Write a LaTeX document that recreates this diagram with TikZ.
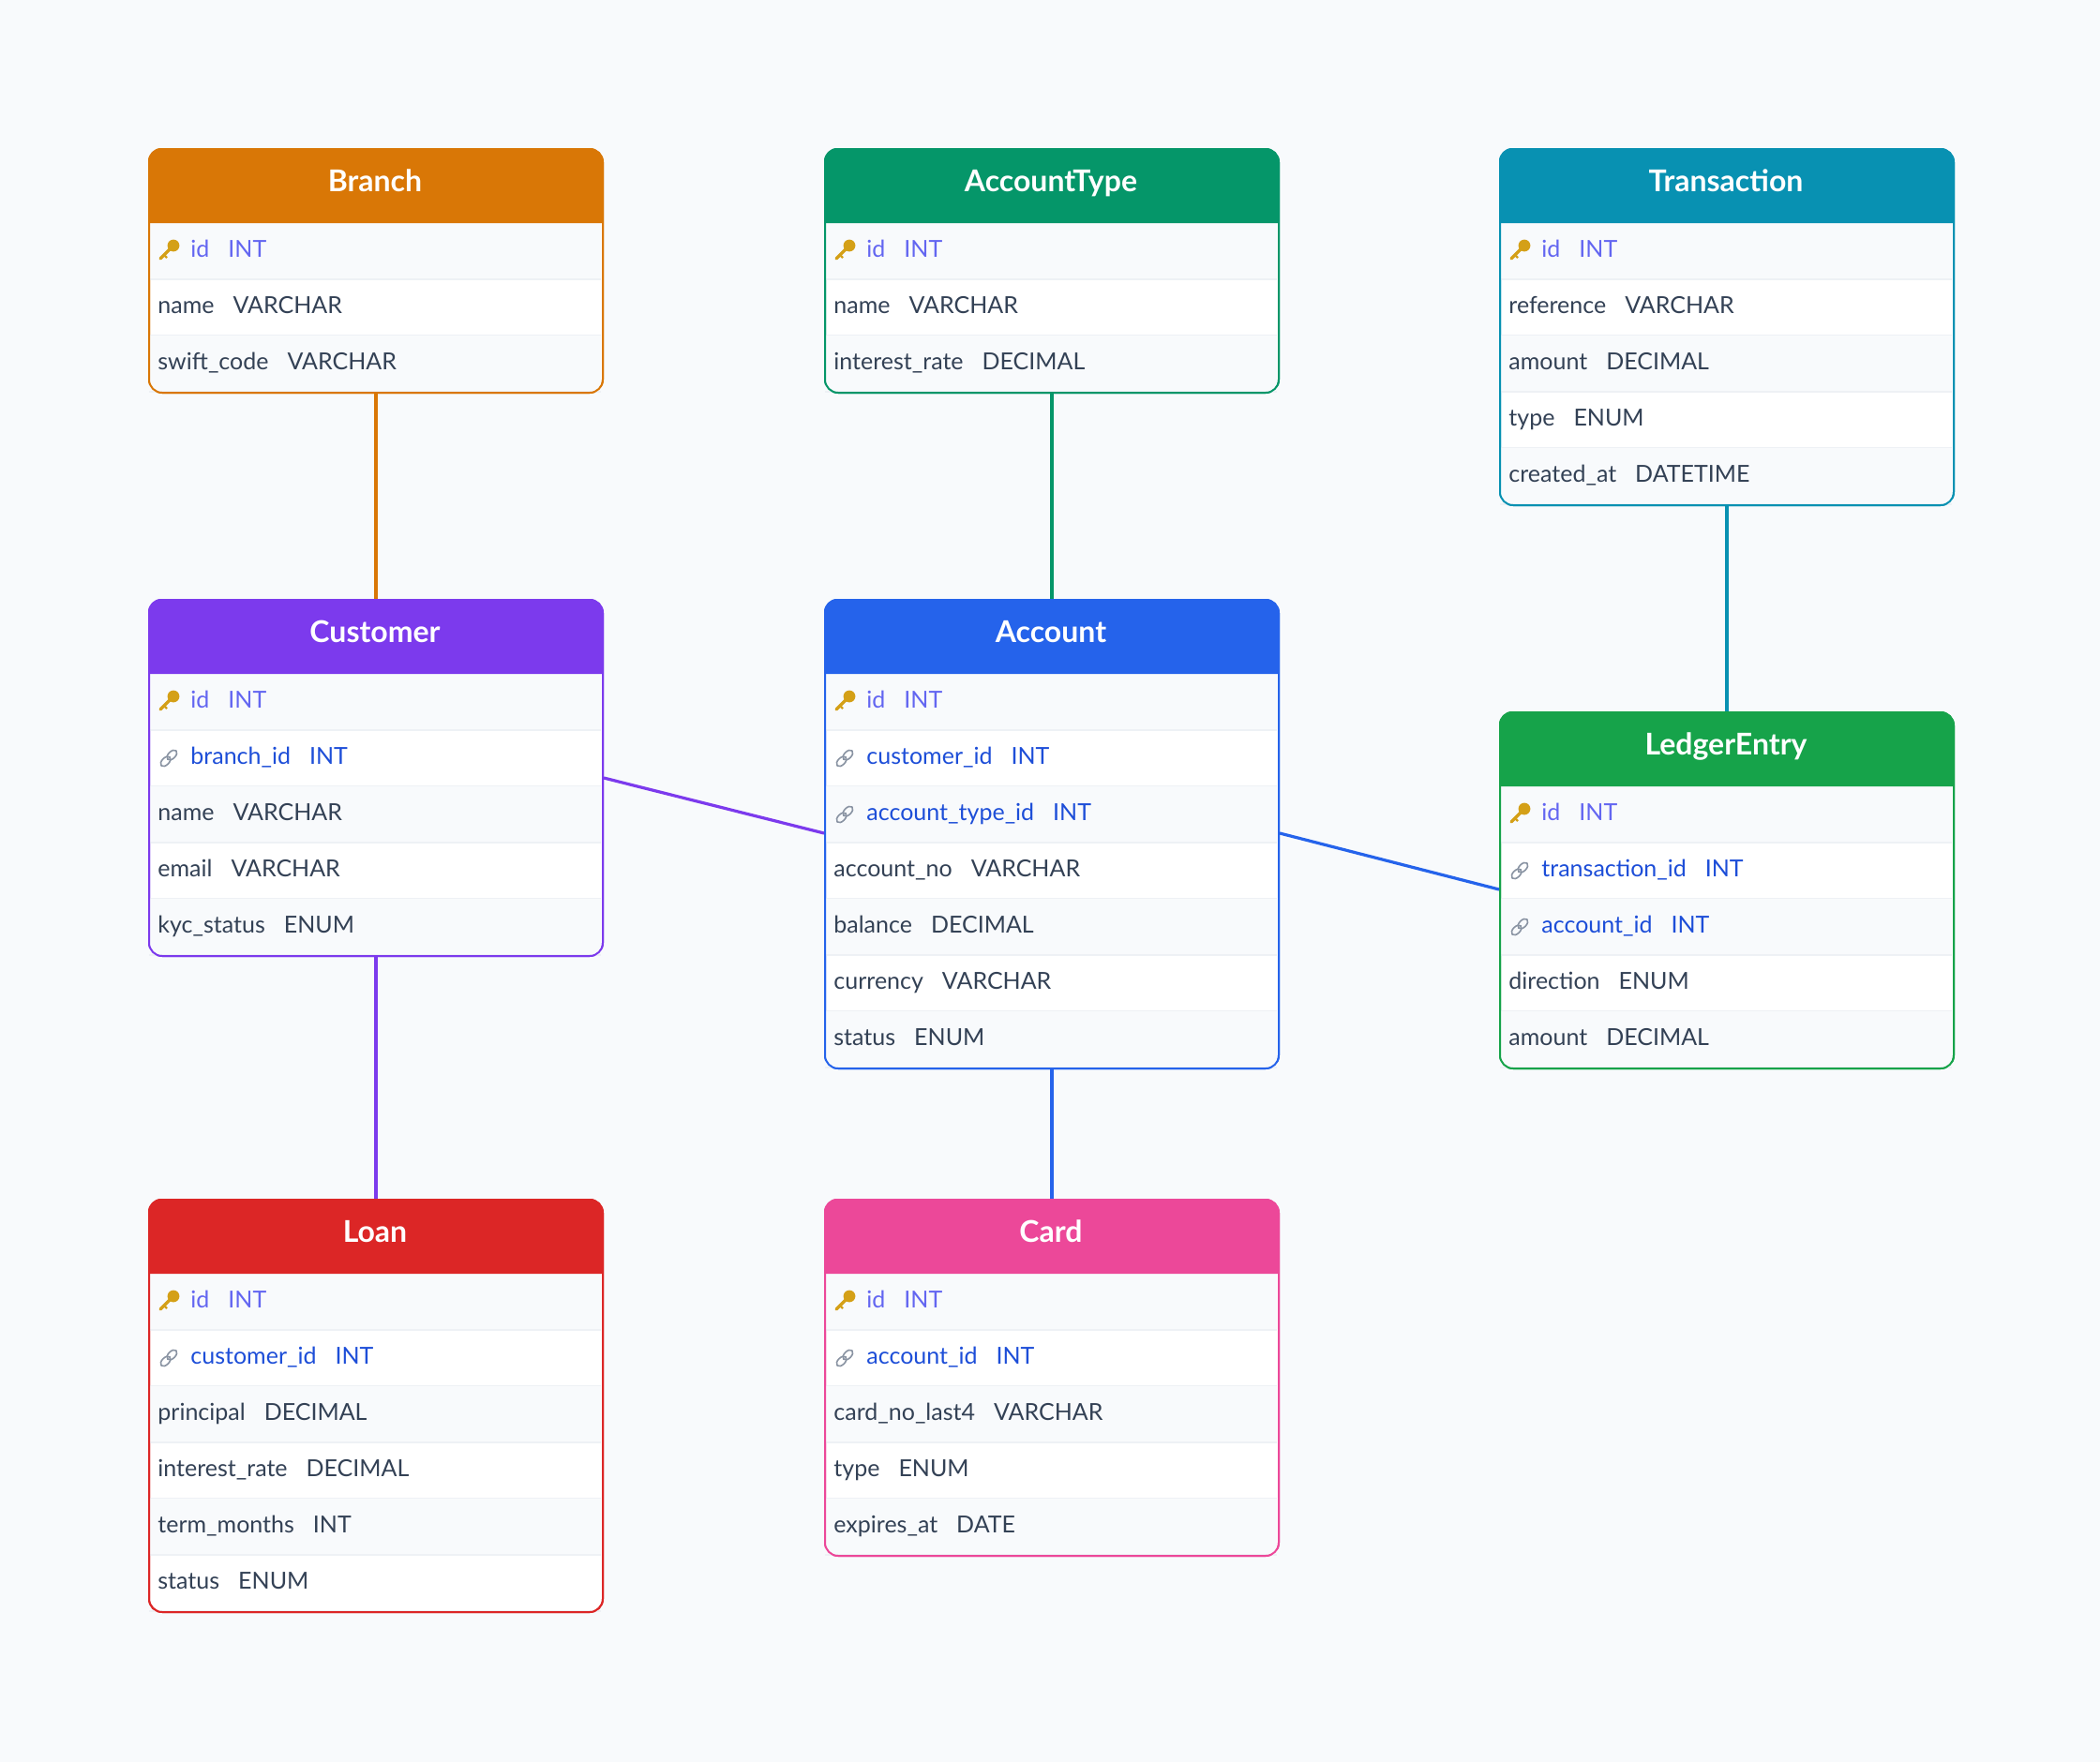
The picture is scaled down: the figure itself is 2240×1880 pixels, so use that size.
\documentclass[tikz,border=0pt]{standalone}
\usepackage{fontspec}
\setmainfont{Lato}
\usetikzlibrary{positioning}
\definecolor{pagebg}{HTML}{F8FAFC}
\definecolor{rowbg}{HTML}{F8FAFC}
\definecolor{rowline}{HTML}{EEF1F5}
\definecolor{textcol}{HTML}{334155}
\definecolor{pkcol}{HTML}{6366F1}
\definecolor{fkcol}{HTML}{1D4ED8}
\definecolor{branchcol}{HTML}{D97706}
\definecolor{acctypecol}{HTML}{059669}
\definecolor{transcol}{HTML}{0891B2}
\definecolor{custcol}{HTML}{7C3AED}
\definecolor{accountcol}{HTML}{2563EB}
\definecolor{ledgercol}{HTML}{16A34A}
\definecolor{loancol}{HTML}{DC2626}
\definecolor{cardcol}{HTML}{EC4899}
\definecolor{keycol}{HTML}{D4A017}
\definecolor{linkcol}{HTML}{8A94A3}
\tikzset{
	table frame/.style={draw=#1, line width=1pt, rounded corners=7pt, inner sep=0pt,
		minimum width=242pt, anchor=north west},
	table title/.style={text=white, inner sep=0pt, text height=11.5pt, text depth=3.5pt,
		font=\fontsize{16}{18}\selectfont\bfseries},
	field/.style={anchor=west, inner sep=0pt, text height=9pt, text depth=3pt,
		font=\fontsize{12.5}{14}\selectfont},
	field-pk/.style={field, text=pkcol},
	field-fk/.style={field, text=fkcol},
	field-no/.style={field, text=textcol},
	relation/.style={line width=1.6pt, draw=#1},
	pk icon/.pic={
		\draw[keycol, line width=1.7pt, line cap=round] (-4.5pt,-4pt) -- (1pt,1.5pt);
		\draw[keycol, line width=1.2pt] (-2.5pt,-2pt) -- (-1pt,-3.5pt);
		\fill[keycol] (2.5pt,3pt) circle (3.2pt);
	},
	fk icon/.pic={
		\draw[linkcol, line width=0.8pt, rotate=45] (-2.4pt,0) ellipse (3.2pt and 1.9pt);
		\draw[linkcol, line width=0.8pt, rotate=45] (2.4pt,0) ellipse (3.2pt and 1.9pt);
	},
	no icon/.pic={},
}
% #1 name, #2 x, #3 y, #4 colour, #5 number of rows, #6 rows kind/field/type
\newcommand\erdtable[6]{%
	\begin{scope}[shift={(#2,#3)}]
		\node[table frame=#4, fill=white, minimum height={(80+60*#5)*0.5pt}] (#1) at (0,0) {};
		\foreach \kind/\fname/\ftype [count=\i] in {#6} {
			\pgfmathsetmacro\ytop{80+60*(\i-1)}
			\ifodd\i \fill[rowbg] (1,\ytop) rectangle (483,\ytop+60); \fi
			\draw[rowline, line width=0.8pt] (1,\ytop+60) -- (483,\ytop+60);
			\ifx\kind\plainkind
				\node[field-no] at (10,\ytop+30) {\fname\hspace{10pt}\ftype};
			\else
				\pic at (22,\ytop+30) {\kind\space icon};
				\node[field-\kind] at (45,\ytop+30) {\fname\hspace{10pt}\ftype};
			\fi
		}
		\fill[#4] (0,80) [rounded corners=7pt] -- (0,0) -- (484,0) [sharp corners] -- (484,80) -- cycle;
		\node[table title] at (242,38) {#1};
		\node[table frame=#4, minimum height={(80+60*#5)*0.5pt}] at (0,0) {};
	\end{scope}
}
\def\plainkind{no}

\begin{document}
\begin{tikzpicture}[x=0.5pt, y=-0.5pt]
\fill[pagebg] (0,0) rectangle (2240,1880);
\useasboundingbox (0,0) rectangle (2240,1880);

\erdtable{Branch}{158}{158}{branchcol}{3}{pk/id/INT, no/name/VARCHAR, no/swift\_code/VARCHAR}
\erdtable{AccountType}{879}{158}{acctypecol}{3}{pk/id/INT, no/name/VARCHAR, no/interest\_rate/DECIMAL}
\erdtable{Transaction}{1599}{158}{transcol}{5}{pk/id/INT, no/reference/VARCHAR, no/amount/DECIMAL, no/type/ENUM, no/created\_at/DATETIME}
\erdtable{Customer}{158}{639}{custcol}{5}{pk/id/INT, fk/branch\_id/INT, no/name/VARCHAR, no/email/VARCHAR, no/kyc\_status/ENUM}
\erdtable{Account}{879}{639}{accountcol}{7}{pk/id/INT, fk/customer\_id/INT, fk/account\_type\_id/INT, no/account\_no/VARCHAR, no/balance/DECIMAL, no/currency/VARCHAR, no/status/ENUM}
\erdtable{LedgerEntry}{1599}{759}{ledgercol}{5}{pk/id/INT, fk/transaction\_id/INT, fk/account\_id/INT, no/direction/ENUM, no/amount/DECIMAL}
\erdtable{Loan}{158}{1279}{loancol}{6}{pk/id/INT, fk/customer\_id/INT, no/principal/DECIMAL, no/interest\_rate/DECIMAL, no/term\_months/INT, no/status/ENUM}
\erdtable{Card}{879}{1279}{cardcol}{5}{pk/id/INT, fk/account\_id/INT, no/card\_no\_last4/VARCHAR, no/type/ENUM, no/expires\_at/DATE}

\draw[relation=branchcol] (Branch.south) -- (Customer.north);
\draw[relation=acctypecol] (AccountType.south) -- (Account.north);
\draw[relation=transcol] (Transaction.south) -- (LedgerEntry.north);
\draw[relation=custcol] ([yshift=-95.5pt]Customer.north east) -- ([yshift=-125pt]Account.north west);
\draw[relation=accountcol] ([yshift=-125pt]Account.north east) -- ([yshift=-95pt]LedgerEntry.north west);
\draw[relation=custcol] (Customer.south) -- (Loan.north);
\draw[relation=accountcol] (Account.south) -- (Card.north);
\end{tikzpicture}
\end{document}
